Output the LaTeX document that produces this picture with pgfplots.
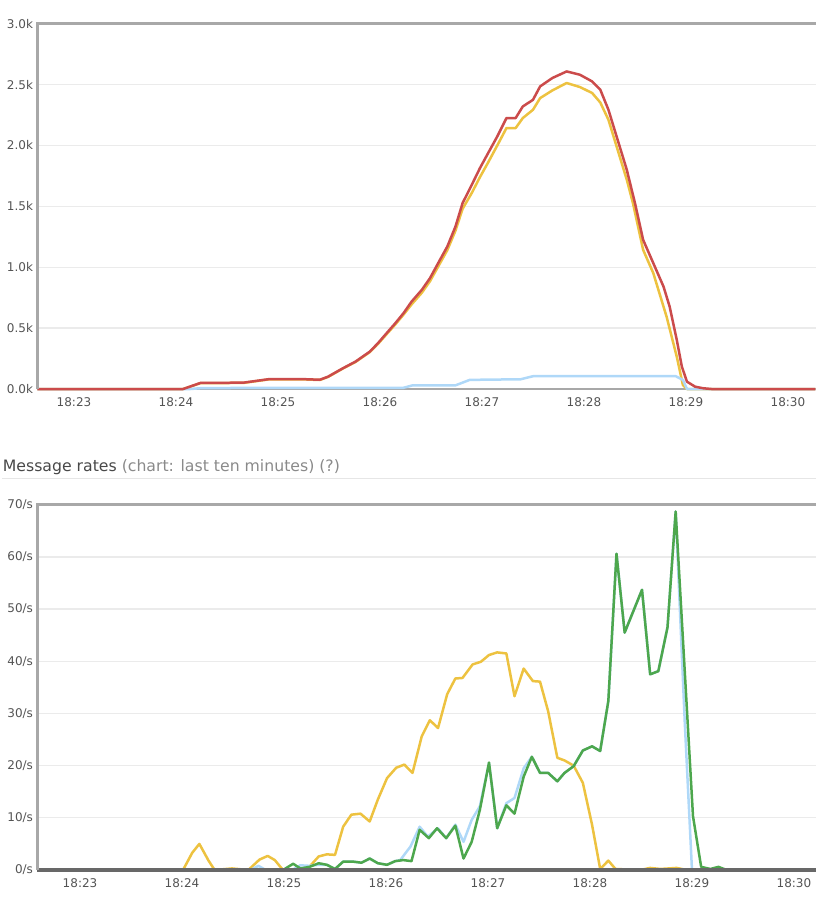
\documentclass[border=0pt]{standalone}
\usepackage{fontspec}
\setmainfont{DejaVu Sans}
\usepackage{pgfplots}
\pgfplotsset{compat=1.18}
\definecolor{cyel}{HTML}{EDC240}
\definecolor{cblu}{HTML}{AFD8F8}
\definecolor{cred}{HTML}{CB4B4B}
\definecolor{cgrn}{HTML}{4DA74D}
\definecolor{cframe}{HTML}{A8A8A8}
\definecolor{cgrid}{HTML}{EBEBEB}
\definecolor{ctick}{HTML}{545454}
\definecolor{czero}{HTML}{686868}
\definecolor{ctitle}{HTML}{484848}
\definecolor{cparen}{HTML}{8A8A8A}
\definecolor{csep}{HTML}{E6E6E6}
\pgfplotsset{
  rmq/.style={
    scale only axis, width=778.5pt, height=365.3pt,
    axis line style={draw=none},
    ymajorgrids, grid style={cgrid, line width=1.3pt},
    major tick length=0pt,
    tick label style={font=\fontsize{12}{14}\selectfont, text=ctick},
    xtick={23,24,25,26,27,28,29,30},
    xticklabels={18:23,18:24,18:25,18:26,18:27,18:28,18:29,18:30},
    xticklabel style={yshift=-5.5pt},
    yticklabel style={xshift=-1pt},
    clip=false,
    every axis plot/.append style={line width=2.5pt, line join=round, no markers},
  }
}
\begin{document}
\begin{tikzpicture}
\path[use as bounding box] (0pt,0pt) rectangle (816pt,-906pt);
% ---------------- Top chart: queued messages ----------------
\begin{axis}[rmq, at={(37.5pt,-389pt)}, anchor=south west,
  xmin=22.642, xmax=30.275, ymin=0, ymax=3000,
  ytick={0,500,1000,1500,2000,2500,3000},
  yticklabels={0.0k,0.5k,1.0k,1.5k,2.0k,2.5k,3.0k}]
\draw[cframe, line width=2pt] (rel axis cs:0,0) -- (rel axis cs:1,0);
% Ready
\addplot[cyel] coordinates {
(22.64,0) (24.07,0) (24.24,48) (24.66,50) (24.92,80) (25.22,80) (25.41,74)
(25.49,99) (25.64,170) (25.76,222) (25.90,303) (25.98,370) (26.05,436)
(26.15,530) (26.23,610) (26.31,695) (26.41,790) (26.49,885) (26.57,1005)
(26.66,1140) (26.74,1300) (26.81,1480) (26.90,1610) (26.98,1740) (27.06,1860)
(27.15,2000) (27.24,2143) (27.33,2143) (27.40,2225) (27.50,2293) (27.57,2389)
(27.69,2452) (27.83,2513) (27.96,2480) (28.08,2431) (28.16,2353) (28.24,2211)
(28.32,1992) (28.42,1718) (28.48,1527) (28.58,1143) (28.68,951) (28.81,594)
(28.91,265) (28.97,33) (29.01,0) (30.27,0)};
% Unacked
\addplot[cblu] coordinates {
(22.64,0) (24.14,0) (24.26,8) (26.23,10) (26.32,30) (26.74,30) (26.88,75)
(27.38,80) (27.50,105) (28.90,105) (28.97,75) (29.01,0) (30.27,0)};
% Total
\addplot[cred] coordinates {
(22.64,0) (24.07,0) (24.24,50) (24.66,52) (24.92,82) (25.22,82) (25.41,76)
(25.49,101) (25.64,172) (25.76,225) (25.90,307) (25.98,376) (26.05,444)
(26.15,540) (26.23,622) (26.31,718) (26.41,814) (26.49,910) (26.57,1033)
(26.66,1170) (26.74,1334) (26.81,1527) (26.90,1677) (26.98,1814) (27.06,1937)
(27.15,2074) (27.24,2225) (27.33,2225) (27.40,2320) (27.50,2375) (27.57,2485)
(27.69,2554) (27.83,2608) (27.96,2581) (28.08,2526) (28.16,2458) (28.24,2293)
(28.32,2074) (28.42,1800) (28.50,1527) (28.58,1225) (28.68,1033) (28.78,841)
(28.84,677) (28.91,403) (28.96,183) (29.01,60) (29.09,19) (29.17,6)
(29.25,0) (30.27,0)};
\draw[cframe, line width=3pt] (rel axis cs:0,0) -- (rel axis cs:0,1) -- (rel axis cs:1,1);
\end{axis}
% ---------------- Title ----------------
\node[anchor=base west, inner sep=0pt] at (2.7pt,-471pt)
  {\fontsize{15.7}{18}\selectfont\textcolor{ctitle}{Message rates} \textcolor{cparen}{(chart: last ten minutes) (?)}};
\draw[csep, line width=1pt] (2pt,-478.5pt) -- (816pt,-478.5pt);
% ---------------- Bottom chart: message rates ----------------
\begin{axis}[rmq, at={(37.5pt,-870pt)}, anchor=south west,
  xmin=22.583, xmax=30.216, ymin=0, ymax=70,
  ytick={0,10,20,30,40,50,60,70},
  yticklabels={0/s,10/s,20/s,30/s,40/s,50/s,60/s,70/s}]
% Publish
\addplot[cyel] coordinates {
(22.58,0) (24.01,0) (24.10,3.3) (24.17,5.0) (24.26,1.8) (24.32,0) (24.49,0.3)
(24.65,0) (24.76,2.0) (24.84,2.7) (24.91,1.9) (24.99,0) (25.22,0) (25.34,2.6)
(25.42,3.0) (25.50,2.9) (25.58,8.3) (25.66,10.6) (25.75,10.8) (25.84,9.3)
(25.92,13.5) (26.01,17.6) (26.10,19.6) (26.18,20.2) (26.26,18.6) (26.35,25.6)
(26.43,28.7) (26.51,27.2) (26.60,33.7) (26.68,36.7) (26.75,36.8) (26.85,39.4)
(26.93,39.9) (27.01,41.2) (27.09,41.7) (27.18,41.5) (27.26,33.3) (27.35,38.6)
(27.44,36.2) (27.51,36.1) (27.59,30.4) (27.68,21.5) (27.75,21.0) (27.84,20.0)
(27.93,16.7) (28.02,8.7) (28.10,0.2) (28.18,1.8) (28.25,0.2) (28.49,0)
(28.59,0.4) (28.69,0.2) (28.85,0.4) (28.95,0) (30.22,0)};
% Deliver
\addplot[cblu] coordinates {
(22.58,0) (24.67,0) (24.75,0.8) (24.82,0) (25.08,0) (25.16,0.9) (25.25,0.8)
(25.34,1.0) (25.42,1.0) (25.50,0.2) (25.58,1.6) (25.68,1.6) (25.76,1.4)
(25.84,2.2) (25.92,1.3) (26.01,1.0) (26.09,1.7) (26.14,1.9) (26.24,4.5)
(26.33,8.3) (26.41,6.4) (26.51,8.0) (26.59,6.1) (26.68,8.7) (26.76,5.4)
(26.84,9.6) (26.92,12.2) (27.01,20.5) (27.09,8.0) (27.18,12.8) (27.26,13.8)
(27.35,19.5) (27.43,21.7) (27.51,18.6) (27.59,18.6) (27.68,17.0) (27.75,18.6)
(27.84,19.9) (27.93,22.9) (28.02,23.7) (28.10,22.8) (28.18,32.4) (28.26,60.6)
(28.34,45.5) (28.51,53.7) (28.59,37.5) (28.67,38.1) (28.76,46.5) (28.84,68.7)
(28.93,28) (29.00,0) (30.22,0)};
% Ack
\addplot[cgrn] coordinates {
(22.58,0) (24.99,0) (25.09,1.2) (25.16,0.3) (25.25,0.6) (25.34,1.3) (25.42,1.0)
(25.50,0.2) (25.58,1.6) (25.68,1.6) (25.76,1.4) (25.84,2.2) (25.92,1.3)
(26.01,1.0) (26.09,1.7) (26.17,1.9) (26.25,1.7) (26.33,7.7) (26.42,6.1)
(26.50,8.0) (26.59,6.1) (26.68,8.5) (26.76,2.2) (26.84,5.4) (26.92,11.5)
(27.01,20.6) (27.09,8.0) (27.18,12.4) (27.26,10.8) (27.35,17.9) (27.43,21.7)
(27.51,18.6) (27.59,18.6) (27.68,17.0) (27.75,18.6) (27.84,19.9) (27.93,22.9)
(28.02,23.7) (28.10,22.8) (28.18,32.4) (28.26,60.6) (28.34,45.5) (28.51,53.7)
(28.59,37.5) (28.67,38.1) (28.76,46.5) (28.84,68.7) (29.01,10.3) (29.09,0.6)
(29.18,0.2) (29.26,0.6) (29.34,0) (30.22,0)};
% Other rates (all zero)
\addplot[czero, line width=3.8pt] coordinates {(22.583,0) (30.216,0)};
\draw[cframe, line width=3pt] (rel axis cs:0,0) -- (rel axis cs:0,1) -- (rel axis cs:1,1);
\end{axis}
\end{tikzpicture}
\end{document}
